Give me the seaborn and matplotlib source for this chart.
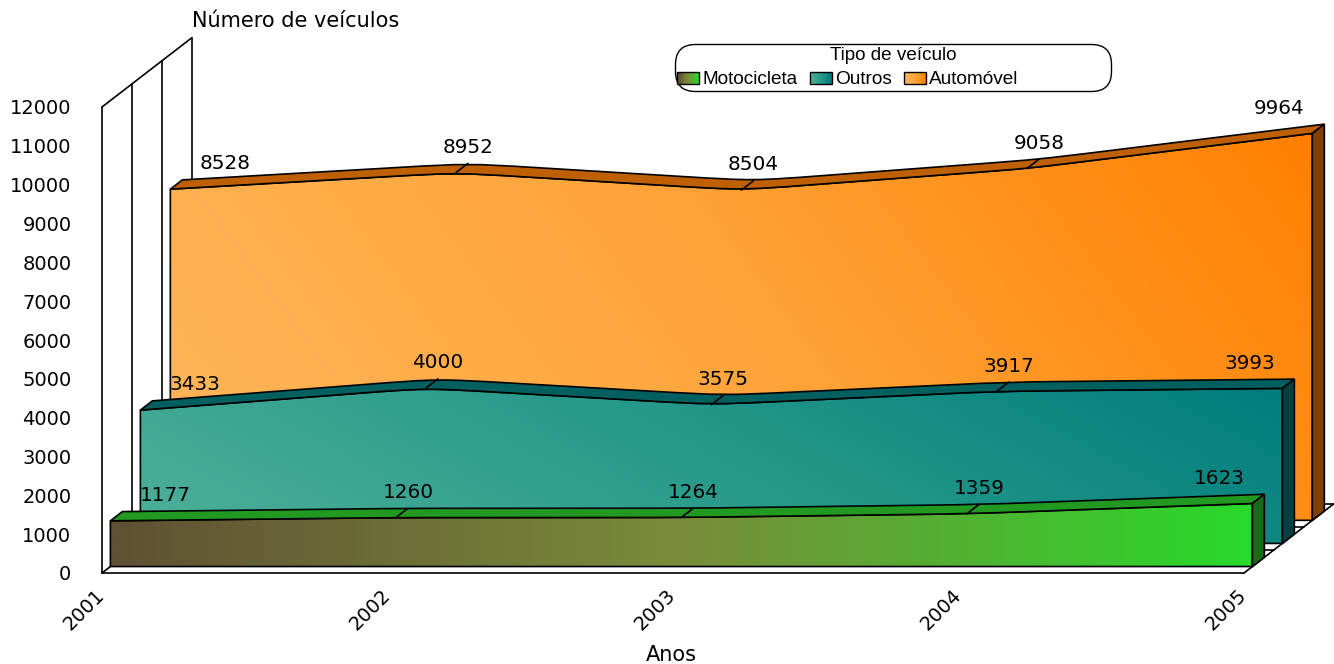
import numpy as np
import pandas as pd
import seaborn as sns
from matplotlib import pyplot as plt
from matplotlib.colors import LinearSegmentedColormap
from matplotlib.legend_handler import HandlerPatch
from matplotlib.patches import Patch, PathPatch, Rectangle
from matplotlib.path import Path

years = ['2001', '2002', '2003', '2004', '2005']
y_ticks = list(range(0, 13000, 1000))

motocicleta = [1177, 1260, 1264, 1359, 1623]
outros = [3433, 4000, 3575, 3917, 3993]
automovel = [8528, 8952, 8504, 9058, 9964]

# pseudo 3d: how far one depth slot moves things, in data units
SLOT_DX = 0.105
SLOT_DY = 595
FRONT = 0.28
BACK = 0.68

# left, middle, right colour, top face, side face, gradient tilt
motocicleta_style = (['#5f5133', '#7a8c3a', '#28d92a'], '#229a22', '#176b19', 0.0)
outros_style = (['#4fb098', '#279a8a', '#007d7d'], '#005f5f', '#004040', 0.25)
automovel_style = (['#ffb75c', '#ffa43a', '#ff8000'], '#bf6000', '#804000', 0.25)


def shift(x, y, depth):
    return np.asarray(x) + depth * SLOT_DX, np.asarray(y) + depth * SLOT_DY


def rounded_top(xs, ys, t=0.25):
    # smooths the knots with a cubic that leaves along the straight parts
    pts = np.column_stack([xs, ys])
    verts = [pts[0]]
    codes = [Path.LINETO]
    for i in range(1, len(pts) - 1):
        before = pts[i] + (pts[i - 1] - pts[i]) * t
        after = pts[i] + (pts[i + 1] - pts[i]) * t
        verts += [before, pts[i], pts[i], after]
        codes += [Path.LINETO, Path.CURVE4, Path.CURVE4, Path.CURVE4]
    verts.append(pts[-1])
    codes.append(Path.LINETO)
    return verts, codes


def gradient_image(ax, patch, colors, tilt):
    cmap = LinearSegmentedColormap.from_list('face', colors)
    bbox = patch.get_path().get_extents()
    gx, gy = np.meshgrid(np.linspace(0, 1, 300), np.linspace(0, 1, 100))
    im = ax.imshow((gx + tilt * gy) / (1 + tilt), cmap=cmap, origin='lower', aspect='auto',
                   extent=(bbox.x0, bbox.x1, bbox.y0, bbox.y1), zorder=patch.get_zorder() - 0.5)
    im.set_clip_box(ax.figure.bbox)
    im.set_clip_path(patch)


def draw_series(ax, values, slot, style, z):
    colors, top_color, side_color, tilt = style
    xs = np.arange(len(values), dtype=float)
    xf, yf = shift(xs, values, slot + FRONT)
    xb, yb = shift(xs, values, slot + BACK)
    _, base_f = shift(0, 0, slot + FRONT)
    _, base_b = shift(0, 0, slot + BACK)

    # front face
    verts, codes = rounded_top(xf, yf)
    path = Path([(xf[0], base_f)] + verts + [(xf[-1], base_f), (xf[0], base_f)],
                [Path.MOVETO] + codes + [Path.LINETO, Path.CLOSEPOLY])
    outline = PathPatch(path, facecolor='none', edgecolor='black', lw=1.2, zorder=z + 1, clip_on=False)
    ax.add_patch(outline)
    gradient_image(ax, outline, colors, tilt)

    # top face
    v1, c1 = rounded_top(xf, yf)
    v2, c2 = rounded_top(xb[::-1], yb[::-1])
    path = Path(v1 + v2 + [v1[0]], [Path.MOVETO] + c1[1:] + c2 + [Path.CLOSEPOLY])
    ax.add_patch(PathPatch(path, facecolor=top_color, edgecolor='black', lw=1.2, zorder=z + 1, clip_on=False))

    # right side face
    side = [(xf[-1], base_f), (xf[-1], yf[-1]), (xb[-1], yb[-1]), (xb[-1], base_b), (xf[-1], base_f)]
    ax.add_patch(PathPatch(Path(side, closed=True), facecolor=side_color, edgecolor='black', lw=1.2,
                           zorder=z + 1, clip_on=False))

    # little edges across the top at every year
    knots = pd.DataFrame({'x': np.concatenate([xf, xb]), 'y': np.concatenate([yf, yb]),
                          'knot': list(range(len(xs))) * 2})
    sns.lineplot(data=knots[knots.knot.between(1, len(xs) - 2)], x='x', y='y', units='knot', estimator=None,
                 color='black', lw=1.2, zorder=z + 2, clip_on=False, ax=ax)

    # value labels, first and last are pushed inwards
    offsets = [43] + [0] * (len(values) - 2) + [-45]
    for x, y, value, off in zip(xb, yb, values, offsets):
        ax.annotate(str(value), (x, y), xytext=(off, 16), textcoords='offset pixels', ha='center', va='center',
                    fontsize=14.4, zorder=z + 3, annotation_clip=False)


def draw_walls(ax):
    x_end = len(years) - 1
    for slot in range(4):
        x0, y0 = shift(0, 0, slot)
        x1, y1 = shift(0, y_ticks[-1], slot)
        ax.plot([x0, x1], [y0, y1], color='black', lw=1.2, clip_on=False, zorder=1)
        x2, y2 = shift(x_end, 0, slot)
        ax.plot([x0, x2], [y0, y2], color='black', lw=1.2, clip_on=False, zorder=1)
    for x_pos, y_pos in [(0, 0), (x_end, 0), (0, y_ticks[-1])]:
        x0, y0 = shift(x_pos, y_pos, 0)
        x1, y1 = shift(x_pos, y_pos, 3)
        ax.plot([x0, x1], [y0, y1], color='black', lw=1.2, clip_on=False, zorder=1)


class GradientHandler(HandlerPatch):
    def __init__(self, colors):
        super().__init__()
        self.cmap = LinearSegmentedColormap.from_list('key', colors)

    def create_artists(self, legend, orig_handle, xdescent, ydescent, width, height, fontsize, trans):
        artists = []
        n = 12
        for i in range(n):
            artists.append(Rectangle((-xdescent + width * i / n, -ydescent), width / n + 0.3, height,
                                     facecolor=self.cmap(i / (n - 1)), edgecolor='none', transform=trans))
        artists.append(Rectangle((-xdescent, -ydescent), width, height, facecolor='none',
                                 edgecolor='black', lw=1, transform=trans))
        return artists


def add_legend(ax):
    h1, h2, h3 = Patch(), Patch(), Patch()
    spacer = Patch(facecolor='none', edgecolor='none')
    leg = ax.legend([h1, h2, h3, spacer], ['Motocicleta', 'Outros', 'Automóvel', '\u00a0' * 10],
                    title='Tipo de veículo', ncol=4, loc='center',
                    bbox_to_anchor=(893 / 1334, 1 - 67.5 / 664), bbox_transform=ax.figure.transFigure,
                    prop={'family': 'Liberation Sans', 'size': 13.7},
                    title_fontproperties={'family': 'Liberation Sans', 'size': 13.6},
                    handlelength=1.16, handleheight=0.6, handletextpad=0.16, columnspacing=0.66,
                    borderpad=0.12, borderaxespad=0, labelspacing=0.42, frameon=True, fancybox=True,
                    framealpha=1, edgecolor='black',
                    handler_map={h1: GradientHandler(motocicleta_style[0]),
                                 h2: GradientHandler(outros_style[0]),
                                 h3: GradientHandler(automovel_style[0])})
    leg.get_frame().set_boxstyle('round', pad=0, rounding_size=1.05)
    leg.get_frame().set_linewidth(1)
    leg.set_zorder(20)


def main():
    sns.set_theme(style='white', rc={'text.color': 'black', 'axes.labelcolor': 'black',
                                     'xtick.color': 'black', 'ytick.color': 'black'})
    plt.rcParams['font.family'] = ['DejaVu Sans']

    fig = plt.figure(figsize=(13.34, 6.64), dpi=100)
    ax = fig.add_axes([102 / 1334, 1 - 573 / 664, 1142 / 1334, 466 / 664])

    draw_walls(ax)
    draw_series(ax, automovel, 2, automovel_style, 10)
    draw_series(ax, outros, 1, outros_style, 13)
    draw_series(ax, motocicleta, 0, motocicleta_style, 16)

    ax.set_xlim(0, len(years) - 1)
    ax.set_ylim(0, y_ticks[-1])
    ax.set_xticks(range(len(years)))
    ax.set_xticklabels(years, rotation=45, ha='right', va='center', rotation_mode='anchor', fontsize=14)
    ax.set_yticks(y_ticks)
    ax.set_yticklabels([str(t) for t in y_ticks], fontsize=14)
    ax.tick_params(axis='x', length=0, pad=14)
    ax.tick_params(axis='y', length=0, pad=22)
    sns.despine(ax=ax, left=True, bottom=True)

    ax.set_xlabel('Anos', fontsize=15, va='center')
    ax.xaxis.set_label_coords((671 - 102) / 1142, -(655 - 573) / 466)
    ax.set_ylabel('Número de veículos', fontsize=15, rotation=0, ha='left', va='center')
    ax.yaxis.set_label_coords((192 - 102) / 1142, (573 - 21) / 466)

    add_legend(ax)

    fig.savefig('out.png', dpi=100)
    plt.close(fig)


if __name__ == '__main__':
    main()
